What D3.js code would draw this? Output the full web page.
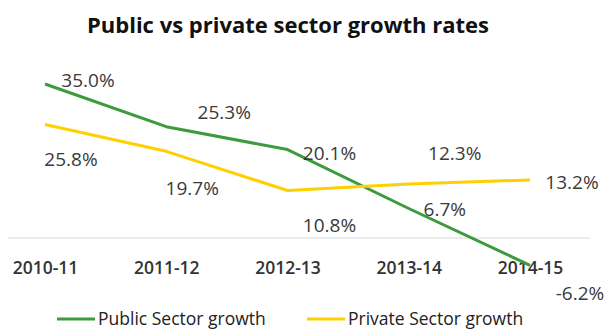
<!DOCTYPE html>
<html>
<head>
<meta charset="utf-8">
<script src="https://cdn.jsdelivr.net/npm/d3@7"></script>
<style>
  html, body { margin: 0; padding: 0; background: #fff; }
  svg { display: block; }
</style>
</head>
<body>
<svg id="chart" width="607" height="330"></svg>
<script>
// Fiscal years on the category axis
const years = ["2010-11", "2011-12", "2012-13", "2013-14", "2014-15"];
// Growth rates, percent
const publicGrowth = [35.0, 25.3, 20.1, 6.7, -6.2];
const privateGrowth = [25.8, 19.7, 10.8, 12.3, 13.2];
const seriesNames = ["Public  Sector growth", "Private Sector growth"];
const chartTitle = "Public vs private sector growth rates";

// Label placement relative to each point (layout only)
const publicLabelOffsets = [[43, -4], [58, -15], [42, 3], [36, 0], [50, 28]];
const privateLabelOffsets = [[26, 35], [26, 37], [42, 35], [46, -31], [42, 2]];

const svg = d3.select("#chart");
const font = "'Open Sans', sans-serif";
const textColor = "#3a3a3a";
const colors = ["#3d9a3d", "#ffd000"];

const x = d3.scalePoint().domain(years).range([45, 530]);
const y = d3.scaleLinear().domain([-10, 40]).range([282, 62]);

// Title
svg.append("text")
  .attr("x", 288).attr("y", 33)
  .attr("text-anchor", "middle")
  .attr("font-family", font).attr("font-weight", "bold")
  .attr("font-size", 22).attr("fill", "#111")
  .text(chartTitle);

// Category axis line at zero
svg.append("line")
  .attr("x1", 8).attr("x2", 590)
  .attr("y1", y(0)).attr("y2", y(0))
  .attr("stroke", "#ececec").attr("stroke-width", 2);

// Category labels
const xAxis = d3.axisBottom(x).tickSize(0).tickPadding(0);
const axisG = svg.append("g").attr("transform", "translate(0,262)").call(xAxis);
axisG.select(".domain").remove();
axisG.selectAll("text")
  .attr("dy", "0.71em")
  .attr("font-family", font).attr("font-size", 17.5).attr("font-weight", 600)
  .attr("fill", "#333");

const line = d3.line().x((d, i) => x(years[i])).y(d => y(d));

const series = [
  { values: publicGrowth, color: colors[0], offsets: publicLabelOffsets },
  { values: privateGrowth, color: colors[1], offsets: privateLabelOffsets }
];

series.forEach(s => {
  svg.append("path")
    .datum(s.values)
    .attr("fill", "none")
    .attr("stroke", s.color)
    .attr("stroke-width", 3)
    .attr("stroke-linejoin", "round")
    .attr("d", line);
});

series.forEach(s => {
  svg.append("g").selectAll("text")
    .data(s.values)
    .join("text")
    .attr("x", (d, i) => x(years[i]) + s.offsets[i][0])
    .attr("y", (d, i) => y(d) + s.offsets[i][1])
    .attr("text-anchor", "middle")
    .attr("dominant-baseline", "central")
    .attr("font-family", font).attr("font-size", 19)
    .attr("fill", textColor)
    .text(d => d.toFixed(1) + "%");
});

// Legend
const legendX = [57, 307];
seriesNames.forEach((name, i) => {
  const g = svg.append("g").attr("transform", `translate(${legendX[i]},319)`);
  g.append("line").attr("x1", 0).attr("x2", 38).attr("y1", 0).attr("y2", 0)
    .attr("stroke", colors[i]).attr("stroke-width", 3);
  g.append("text").attr("x", 41).attr("y", 6)
    .attr("font-family", font).attr("font-size", 17.5)
    .attr("fill", "#222")
    .text(name);
});
</script>
</body>
</html>
